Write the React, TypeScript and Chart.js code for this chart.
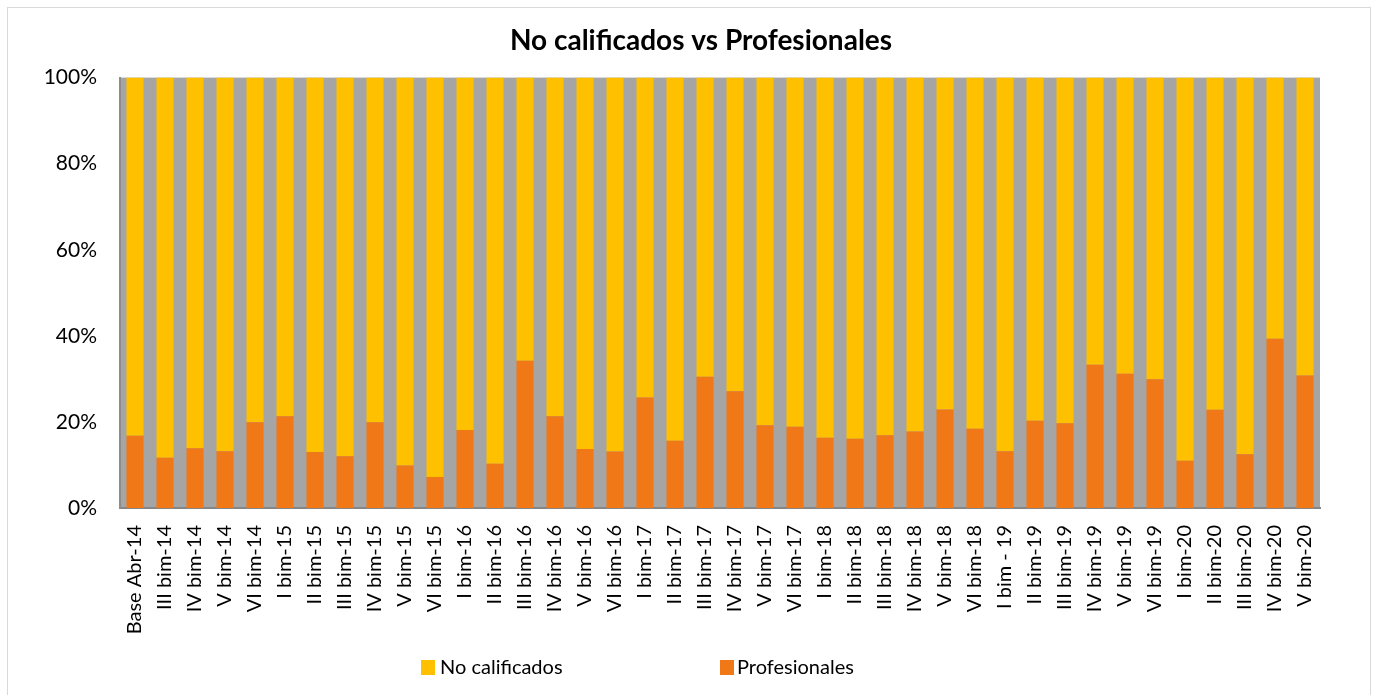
import React, { useEffect, useRef } from "react";
import { Chart, registerables } from "chart.js";

Chart.register(...registerables);

const categories = [
  "Base Abr-14", "III bim-14", "IV bim-14", "V bim-14", "VI bim-14",
  "I bim-15", "II bim-15", "III bim-15", "IV bim-15", "V bim-15", "VI bim-15",
  "I bim-16", "II bim-16", "III bim-16", "IV bim-16", "V bim-16", "VI bim-16",
  "I bim-17", "II bim-17", "III bim-17", "IV bim-17", "V bim-17", "VI bim-17",
  "I bim-18", "II bim-18", "III bim-18", "IV bim-18", "V bim-18", "VI bim-18",
  "I bim - 19", "II bim-19", "III bim-19", "IV bim-19", "V bim-19", "VI bim-19",
  "I bim-20", "II bim-20", "III bim-20", "IV bim-20", "V bim-20",
];

const profesionales = [
  16.8, 11.7, 13.9, 13.2, 19.9,
  21.3, 13.0, 12.0, 19.9, 9.9, 7.2,
  18.1, 10.3, 34.2, 21.3, 13.7, 13.1,
  25.7, 15.6, 30.5, 27.1, 19.2, 18.9,
  16.3, 16.1, 16.9, 17.8, 22.9, 18.4,
  13.2, 20.3, 19.7, 33.3, 31.2, 29.9,
  11.0, 22.8, 12.5, 39.3, 30.8,
];

const noCalificados = [
  83.2, 88.3, 86.1, 86.8, 80.1,
  78.7, 87.0, 88.0, 80.1, 90.1, 92.8,
  81.9, 89.7, 65.8, 78.7, 86.3, 86.9,
  74.3, 84.4, 69.5, 72.9, 80.8, 81.1,
  83.7, 83.9, 83.1, 82.2, 77.1, 81.6,
  86.8, 79.7, 80.3, 66.7, 68.8, 70.1,
  89.0, 77.2, 87.5, 60.7, 69.2,
];

const yTickLabels: Record<number, string> = {
  0: "0%", 20: "20%", 40: "40%", 60: "60%", 80: "80%", 100: "100%",
};

const TITLE = "No calificados vs Profesionales";
const FONT = "Lato, 'Noto Sans', sans-serif";
const YELLOW = "#FFC000";
const ORANGE = "#F07817";
const PLOT_BG = "#A5A5A5";

const plotBgPlugin = {
  id: "plotBg",
  beforeDraw(chart: any) {
    const { ctx, chartArea } = chart;
    if (!chartArea) return;
    ctx.save();
    ctx.fillStyle = PLOT_BG;
    ctx.fillRect(chartArea.left, chartArea.top, chartArea.right - chartArea.left, chartArea.bottom - chartArea.top);
    ctx.restore();
  },
};

const legendPlugin = {
  id: "customLegend",
  afterDraw(chart: any) {
    const { ctx } = chart;
    const ds = chart.data.datasets;
    // legend order: No calificados, Profesionales
    const items = [
      { label: ds[1].label, color: ds[1].backgroundColor, boxX: 413, textX: 432 },
      { label: ds[0].label, color: ds[0].backgroundColor, boxX: 712, textX: 729 },
    ];
    ctx.save();
    ctx.font = `20px ${FONT}`;
    ctx.textBaseline = "middle";
    ctx.textAlign = "left";
    for (const it of items) {
      ctx.fillStyle = it.color;
      ctx.fillRect(it.boxX, 652, 14, 15);
      ctx.fillStyle = "#000000";
      ctx.fillText(it.label, it.textX, 660);
    }
    ctx.restore();
  },
};

export default function App() {
  const canvasRef = useRef<HTMLCanvasElement | null>(null);

  useEffect(() => {
    if (!canvasRef.current) return;
    const chart = new Chart(canvasRef.current, {
      type: "bar",
      data: {
        labels: categories,
        datasets: [
          {
            label: "Profesionales",
            data: profesionales,
            backgroundColor: ORANGE,
            barPercentage: 0.57,
            categoryPercentage: 1,
          },
          {
            label: "No calificados",
            data: noCalificados,
            backgroundColor: YELLOW,
            barPercentage: 0.57,
            categoryPercentage: 1,
          },
        ],
      },
      options: {
        responsive: false,
        animation: false,
        layout: { padding: { left: 24, right: 0, top: 0, bottom: 0 } },
        plugins: {
          legend: { display: false },
          tooltip: { enabled: false },
          title: {
            display: true,
            text: TITLE,
            color: "#000000",
            font: { family: FONT, size: 28, weight: "bold" },
            padding: { top: 16, bottom: 20 },
          },
        },
        scales: {
          x: {
            stacked: true,
            grid: { display: false, drawTicks: false },
            border: { display: true, color: "#868686", width: 2 },
            ticks: {
              color: "#000000",
              font: { family: FONT, size: 20 },
              minRotation: 90,
              maxRotation: 90,
              autoSkip: false,
              padding: 17,
            },
            afterFit(scale: any) {
              scale.height = 183;
            },
          },
          y: {
            stacked: true,
            min: 0,
            max: 100,
            grid: { display: false, drawTicks: false },
            border: { display: true, color: "#8C8C8C", width: 2 },
            ticks: {
              stepSize: 20,
              color: "#000000",
              font: { family: FONT, size: 21 },
              padding: 23,
              callback: (v: any) => yTickLabels[Number(v)] ?? `${v}%`,
            },
            afterFit(scale: any) {
              scale.width = 88;
            },
          },
          yRight: {
            position: "right",
            display: true,
            min: 0,
            max: 100,
            grid: { display: false, drawTicks: false },
            border: { display: false },
            ticks: { display: false },
            afterFit(scale: any) {
              scale.width = 50;
            },
          },
        },
      },
      plugins: [plotBgPlugin, legendPlugin],
    });
    return () => chart.destroy();
  }, []);

  return (
    <div
      style={{
        position: "absolute",
        left: 7,
        top: 7,
        width: 1362,
        height: 700,
        border: "1px solid #D9D9D9",
        background: "#FFFFFF",
      }}
    >
      <canvas ref={canvasRef} width={1362} height={683} style={{ display: "block" }} />
    </div>
  );
}
